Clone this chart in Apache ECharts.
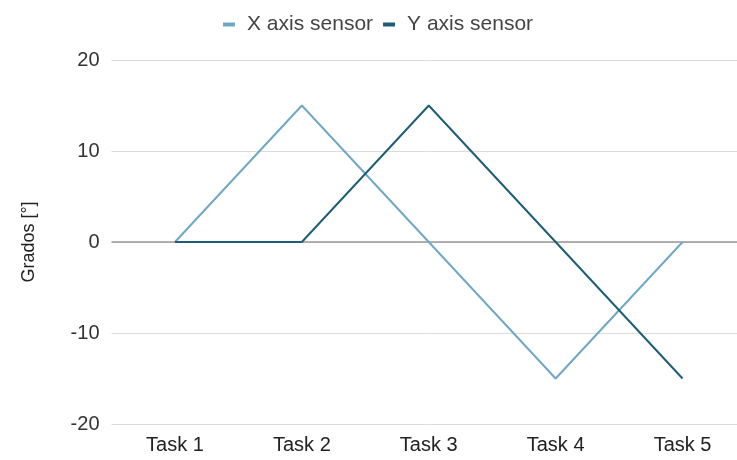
<!DOCTYPE html>
<html><head><meta charset="utf-8">
<script src="https://cdn.jsdelivr.net/npm/echarts@6/dist/echarts.min.js"></script>
<style>html,body{margin:0;padding:0;background:#fff;overflow:hidden}#c{width:746px;height:460px}</style>
</head><body><div id="c"></div>
<script>
const categories = ['Task 1','Task 2','Task 3','Task 4','Task 5'];
const xSensor = [0, 15, 0, -15, 0];
const ySensor = [0, 0, 15, 0, -15];
const seriesNames = ['X axis sensor','Y axis sensor'];
const yTicks = {min: -20, max: 20, interval: 10};
const FONT = 'Liberation Sans, Arial, sans-serif';

const chart = echarts.init(document.getElementById('c'));
chart.setOption({
  animation: false,
  textStyle: {fontFamily: FONT},
  legend: {
    top: 9, left: 218,
    itemWidth: 12, itemHeight: 4, itemGap: 10,
    icon: 'rect',
    textStyle: {fontSize: 21, color: '#444', fontFamily: FONT, padding: [0, 0, 0, 7]},
    data: seriesNames
  },
  grid: {left: 111.5, right: 0, top: 60, bottom: 36},
  xAxis: {
    type: 'category', data: categories, boundaryGap: true,
    axisLine: {show: false}, axisTick: {show: false},
    axisLabel: {fontSize: 20, color: '#222', margin: 11}
  },
  yAxis: {
    type: 'value', min: yTicks.min, max: yTicks.max, interval: yTicks.interval,
    name: 'Grados [°]', nameLocation: 'middle', nameGap: 73, nameRotate: 90,
    nameTextStyle: {fontSize: 18, color: '#222'},
    axisLine: {show: false}, axisTick: {show: false},
    axisLabel: {fontSize: 20, color: '#333', margin: 12},
    splitLine: {lineStyle: {color: '#dcdcdc', width: 1}}
  },
  series: [
    {name: seriesNames[0], type: 'line', data: xSensor, symbol: 'none',
     color: '#72a7c4', lineStyle: {width: 2, color: '#72a7c4'},
     markLine: {silent: true, symbol: 'none', label: {show: false},
       lineStyle: {color: '#999', width: 1.5, type: 'solid'}, data: [{yAxis: 0}], z: 1}},
    {name: seriesNames[1], type: 'line', data: ySensor, symbol: 'none',
     color: '#1f5d75', lineStyle: {width: 2, color: '#1f5d75'}}
  ]
});
</script></body></html>
